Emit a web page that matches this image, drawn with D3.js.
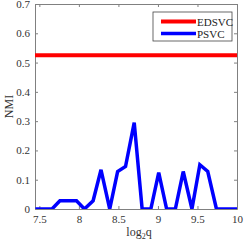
<!DOCTYPE html>
<html>
<head>
<meta charset="utf-8">
<script src="https://cdn.jsdelivr.net/npm/d3@7/dist/d3.min.js"></script>
<style>
  body { margin: 0; background: #fff; }
  text { font-family: "Liberation Serif", "Times New Roman", serif; }
</style>
</head>
<body>
<svg id="chart" width="245" height="244"></svg>
<script>
// log2(q) sample positions
var logQ = [7.45, 7.55, 7.66, 7.76, 7.87, 7.97, 8.07, 8.18, 8.28, 8.39, 8.49, 8.59, 8.70,
            8.80, 8.91, 9.01, 9.11, 9.22, 9.32, 9.43, 9.53, 9.63, 9.74, 9.84, 9.95, 10.05];
var psvc = [0, 0, 0, 0.028, 0.028, 0.028, 0, 0.028, 0.134, 0, 0.128, 0.145, 0.295,
            0, 0, 0.124, 0, 0, 0.128, 0, 0.151, 0.128, 0, 0, 0, 0];
var edsvc = 0.525;
var xTicks = [7.5, 8, 8.5, 9, 9.5, 10];
var yTicks = [0, 0.1, 0.2, 0.3, 0.4, 0.5, 0.6, 0.7];
var seriesNames = ["EDSVC", "PSVC"];
var seriesColors = ["#ff0000", "#0000ff"];

var margin = {top: 4, right: 8, bottom: 35, left: 35},
    width = 245 - margin.left - margin.right,
    height = 244 - margin.top - margin.bottom;

var svg = d3.select("#chart");
var g = svg.append("g").attr("transform", "translate(" + margin.left + "," + margin.top + ")");

var x = d3.scaleLinear().domain([7.445, 10]).range([0, width]);
var y = d3.scaleLinear().domain([0, 0.7]).range([height, 0]);

g.append("clipPath").attr("id", "clip")
  .append("rect").attr("width", width).attr("height", height);

var axisColor = "#808080", labelColor = "#333";

// box with inward ticks on all four sides
function styleAxis(sel) {
  sel.select(".domain").attr("stroke", axisColor);
  sel.selectAll(".tick line").attr("stroke", axisColor);
  sel.selectAll("text").attr("fill", labelColor).attr("font-size", "11px")
    .attr("font-family", "Liberation Serif, Times New Roman, serif");
}
g.append("g").attr("transform", "translate(0," + height + ")")
  .call(d3.axisBottom(x).tickValues(xTicks).tickSizeInner(-3).tickSizeOuter(0).tickPadding(6)
        .tickFormat(d3.format("")))
  .call(styleAxis);
g.append("g")
  .call(d3.axisTop(x).tickValues(xTicks).tickSizeInner(-3).tickSizeOuter(0).tickFormat(""))
  .call(styleAxis);
g.append("g")
  .call(d3.axisLeft(y).tickValues(yTicks).tickSizeInner(-3).tickSizeOuter(0).tickPadding(5)
        .tickFormat(d3.format("")))
  .call(styleAxis);
g.append("g").attr("transform", "translate(" + width + ",0)")
  .call(d3.axisRight(y).tickValues(yTicks).tickSizeInner(-3).tickSizeOuter(0).tickFormat(""))
  .call(styleAxis);

// EDSVC constant line
g.append("line")
  .attr("clip-path", "url(#clip)")
  .attr("x1", 0).attr("x2", width)
  .attr("y1", y(edsvc)).attr("y2", y(edsvc))
  .attr("stroke", seriesColors[0]).attr("stroke-width", 4);

// PSVC line
var line = d3.line().x(function(d, i) { return x(logQ[i]); }).y(function(d) { return y(d); });
g.append("path").datum(psvc)
  .attr("clip-path", "url(#clip)")
  .attr("d", line)
  .attr("fill", "none")
  .attr("stroke", seriesColors[1])
  .attr("stroke-width", 3.5)
  .attr("stroke-linejoin", "miter");

// axis labels
var xl = svg.append("text")
  .attr("x", margin.left + width / 2 + 3).attr("y", 236)
  .attr("text-anchor", "middle").attr("font-size", "12px").attr("fill", labelColor);
xl.append("tspan").text("log");
xl.append("tspan").attr("font-size", "8px").attr("dy", 3).text("2");
xl.append("tspan").attr("dy", -3).text("q");

svg.append("text")
  .attr("transform", "translate(13," + (margin.top + height / 2) + ") rotate(-90)")
  .attr("text-anchor", "middle").attr("font-size", "12px").attr("fill", labelColor)
  .text("NMI");

// legend
var lg = svg.append("g").attr("transform", "translate(153,12)");
lg.append("rect").attr("width", 79).attr("height", 29)
  .attr("fill", "#fff").attr("stroke", "#444").attr("stroke-width", 0.8);
seriesNames.forEach(function(name, i) {
  var ly = 9.5 + i * 12;
  lg.append("line").attr("x1", 8).attr("x2", 43).attr("y1", ly).attr("y2", ly)
    .attr("stroke", seriesColors[i]).attr("stroke-width", i === 0 ? 4 : 3.5);
  lg.append("text").attr("x", 44).attr("y", ly + 4)
    .attr("font-size", "11px").attr("fill", "#222").text(name);
});
</script>
</body>
</html>
